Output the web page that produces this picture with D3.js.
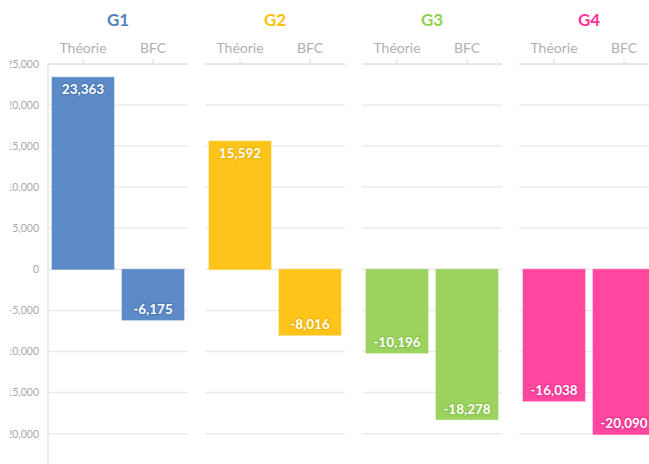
<!DOCTYPE html>
<html><head><meta charset="utf-8">
<script src="https://cdn.jsdelivr.net/npm/d3@7"></script>
<style>body{margin:0;background:#fff}svg{display:block}</style>
</head><body>
<svg id="c" width="649" height="464"></svg>
<script>
const groups = ["G1","G2","G3","G4"];
const categories = ["Théorie","BFC"];
const theorie = [23363, 15592, -10196, -16038];
const bfc = [-6175, -8016, -18278, -20090];
const groupColors = ["#4f81bd","#ffc000","#92d050","#ff3399"];
const barColors = ["#5d8bc7","#ffc41a","#9bd35e","#ff47a0"];
const haloColors = ["#3f6ea8","#e0a800","#7ab840","#e02585"];
const yTicks = [25000,20000,15000,10000,5000,0,-5000,-10000,-15000,-20000];

const svg = d3.select("#c");
const W = 649, H = 464;
const topY = 63.8, zeroY = 269.3, pxPer = 41.1/5000;
const y = d3.scaleLinear().domain([-(H-zeroY)/pxPer, 25000]).range([H, topY]);
const fmt = d3.formatLocale({decimal:".", thousands:",", grouping:[3], currency:["",""], minus:"-"}).format(",");

const panelX = d3.scaleBand().domain(groups).range([48, 48+157*4-17]).paddingInner(17/157).paddingOuter(0);

// y axis labels (clipped at the left like the original)
svg.append("defs").append("clipPath").attr("id","yclip")
  .append("rect").attr("x",10).attr("y",0).attr("width",40).attr("height",H);
const yAxis = d3.axisLeft(y).tickValues(yTicks).tickFormat(fmt).tickSize(0).tickPadding(0);
const ya = svg.append("g").attr("clip-path","url(#yclip)").append("g").attr("transform","translate(39,0)").call(yAxis);
ya.select(".domain").remove();
ya.selectAll("text").attr("fill","#a8a8a8").style("font-family","Lato, 'Open Sans', sans-serif").style("font-size","10.5px");

// y axis vertical line
svg.append("line").attr("x1",48).attr("x2",48).attr("y1",topY).attr("y2",H).attr("stroke","#e6e6e6").attr("stroke-width",1.5);

const rows = groups.map((g,i)=>({g, i, vals:[theorie[i], bfc[i]]}));

rows.forEach(r=>{
  const x0 = panelX(r.g), pw = panelX.bandwidth();
  const gp = svg.append("g").attr("transform",`translate(${x0},0)`);
  const x = d3.scaleBand().domain(categories).range([0,pw]).paddingInner(8/70).paddingOuter(4/70);
  const xc = d3.scaleBand().domain(categories).range([0,pw]);
  // gridlines
  gp.selectAll("line.grid").data(yTicks).join("line").attr("class","grid")
    .attr("x1",0).attr("x2",pw).attr("y1",d=>y(d)).attr("y2",d=>y(d))
    .attr("stroke","#ebebeb").attr("stroke-width",1.5);
  // top axis
  const xa = gp.append("g").attr("transform",`translate(0,${topY})`)
    .call(d3.axisTop(xc).tickSize(5).tickPadding(6).tickSizeOuter(0));
  xa.select(".domain").attr("stroke","#e6e6e6").attr("stroke-width",1.5);
  xa.selectAll(".tick line").attr("stroke","#dcdcdc");
  xa.selectAll("text").attr("fill","#b0b0b0").style("font-family","Lato, 'Open Sans', sans-serif").style("font-size","14px");
  // title
  gp.append("text").attr("x",pw/2).attr("y",26).attr("text-anchor","middle")
    .attr("fill",groupColors[r.i]).style("font-family","Lato, 'Open Sans', sans-serif")
    .style("font-size","17px").style("font-weight","bold").text(r.g);
  // bars
  const data = categories.map((c,j)=>({c, v:r.vals[j]}));
  gp.selectAll("rect.bar").data(data).join("rect").attr("class","bar")
    .attr("x",d=>x(d.c)).attr("width",x.bandwidth())
    .attr("y",d=>y(Math.max(0,d.v))).attr("height",d=>Math.abs(y(d.v)-y(0)))
    .attr("fill",barColors[r.i]).attr("stroke",barColors[r.i]).attr("stroke-opacity",0.6);
  // labels
  gp.selectAll("text.lbl").data(data).join("text").attr("class","lbl")
    .attr("x",d=>x(d.c)+x.bandwidth()/2)
    .attr("y",d=>d.v>=0 ? y(d.v)+17 : y(d.v)-6)
    .attr("text-anchor","middle")
    .style("font-family","Lato, 'Open Sans', sans-serif").style("font-size","13.5px").style("font-weight","bold")
    .attr("fill","#fff").attr("stroke",haloColors[r.i]).attr("stroke-width",2.5).attr("stroke-opacity",0.5)
    .attr("paint-order","stroke")
    .text(d=>fmt(d.v));
});
</script>
</body></html>
